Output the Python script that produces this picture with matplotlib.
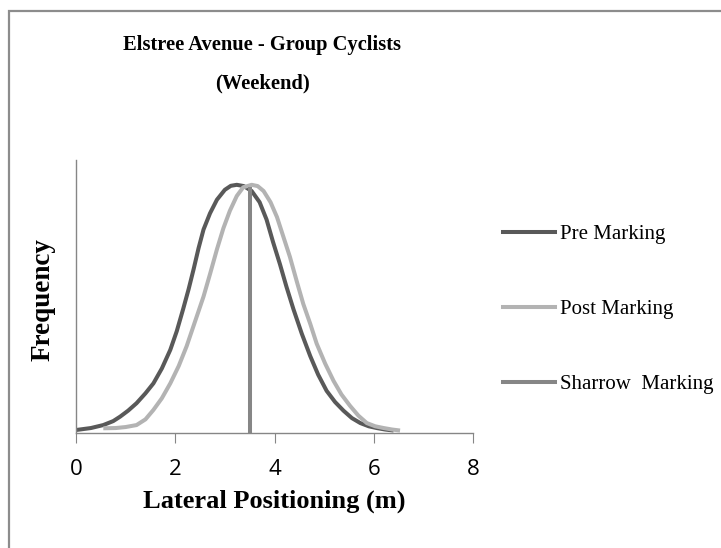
import matplotlib.pyplot as plt
from matplotlib.patches import Rectangle
from matplotlib.lines import Line2D

# Values (frequency normalised to peak = 1)
pre_x = [0.0, 0.3, 0.55, 0.75, 0.89, 1.05, 1.22, 1.4, 1.56, 1.73, 1.90, 2.03,
         2.16, 2.27, 2.37, 2.47, 2.57, 2.70, 2.84, 3.0, 3.12, 3.24, 3.38, 3.54,
         3.70, 3.84, 3.97, 4.11, 4.24, 4.38, 4.55, 4.72, 4.88, 5.05, 5.22, 5.39,
         5.56, 5.73, 5.9, 6.06, 6.23, 6.4]
pre_y = [0.012, 0.02, 0.032, 0.048, 0.066, 0.09, 0.12, 0.16, 0.20, 0.26, 0.335, 0.41,
         0.50, 0.58, 0.66, 0.745, 0.82, 0.885, 0.94, 0.98, 0.996, 1.0, 0.995, 0.975,
         0.93, 0.86, 0.77, 0.68, 0.59, 0.50, 0.40, 0.31, 0.235, 0.17, 0.125, 0.09,
         0.06, 0.04, 0.027, 0.02, 0.014, 0.01]

post_x = [0.55, 0.8, 1.0, 1.22, 1.4, 1.56, 1.73, 1.90, 2.07, 2.23, 2.40, 2.57,
          2.70, 2.84, 2.97, 3.10, 3.24, 3.37, 3.54, 3.66, 3.78, 3.92, 4.05, 4.18,
          4.31, 4.45, 4.58, 4.72, 4.85, 5.02, 5.19, 5.35, 5.52, 5.69, 5.86, 6.03,
          6.2, 6.37, 6.53]
post_y = [0.019, 0.02, 0.024, 0.032, 0.055, 0.093, 0.14, 0.20, 0.27, 0.35, 0.45, 0.55,
          0.64, 0.74, 0.825, 0.895, 0.955, 0.99, 1.0, 0.995, 0.975, 0.93, 0.87, 0.79,
          0.71, 0.61, 0.52, 0.44, 0.36, 0.28, 0.21, 0.155, 0.11, 0.07, 0.04, 0.027,
          0.02, 0.014, 0.01]

sharrow_x = [3.5, 3.5]
sharrow_y = [0.0, 0.99]

PRE_COL = '#595959'
POST_COL = '#b3b3b3'
SHARROW_COL = '#868686'

fig = plt.figure(figsize=(7.21, 5.48), dpi=100)
ax = fig.add_axes([76 / 721, 115 / 548, 397 / 721, 273 / 548])

# chart border (only top/left visible in the reference)
fig.patches.append(Rectangle((8.5 / 721, -0.1), 1.2, 1.1 - 11 / 548,
                             transform=fig.transFigure, fill=False,
                             edgecolor='#8c8c8c', linewidth=1.6))

ax.plot(pre_x, pre_y, color=PRE_COL, lw=2.9, solid_capstyle='butt')
ax.plot(post_x, post_y, color=POST_COL, lw=2.9, solid_capstyle='butt')
ax.plot(sharrow_x, sharrow_y, color=SHARROW_COL, lw=2.9, solid_capstyle='butt')

ax.set_xlim(0, 8)
ax.set_ylim(0, 1.1)
ax.set_xticks([0, 2, 4, 6, 8])
ax.set_yticks([])
for s in ['top', 'right']:
    ax.spines[s].set_visible(False)
for s in ['left', 'bottom']:
    ax.spines[s].set_color('#868686')
    ax.spines[s].set_linewidth(1.0)
ax.tick_params(axis='x', direction='out', length=7, color='#868686', pad=11.5,
               labelsize=16)
for lab in ax.get_xticklabels():
    lab.set_fontfamily('Open Sans')

ax.set_xlabel('Lateral Positioning (m)', fontsize=19, fontweight='bold',
              family='Liberation Serif', labelpad=7)
ax.set_ylabel('Frequency', fontsize=19.5, fontweight='bold',
              family='Liberation Serif')
ax.yaxis.set_label_coords(-33 / 397, 0.49)
ax.yaxis.label.set_verticalalignment('center')

fig.text(262 / 721, 1 - 45 / 548, 'Elstree Avenue - Group Cyclists',
         ha='center', va='center', fontsize=14.8, fontweight='bold', family='Liberation Serif')
fig.text(263 / 721, 1 - 83 / 548, '(Weekend)',
         ha='center', va='center', fontsize=14.8, fontweight='bold', family='Liberation Serif')

handles = [Line2D([], [], color=PRE_COL, lw=2.9),
           Line2D([], [], color=POST_COL, lw=2.9),
           Line2D([], [], color=SHARROW_COL, lw=2.9)]
labels = ['Pre Marking', 'Post Marking', 'Sharrow  Marking']
fig.legend(handles, labels, loc='center left', bbox_to_anchor=(484 / 721, 1 - 309.5 / 548),
           frameon=False, prop={'family': 'Liberation Serif', 'size': 15},
           handlelength=2.5, handletextpad=0.24, labelspacing=2.67)

plt.savefig('out.png', dpi=100)
